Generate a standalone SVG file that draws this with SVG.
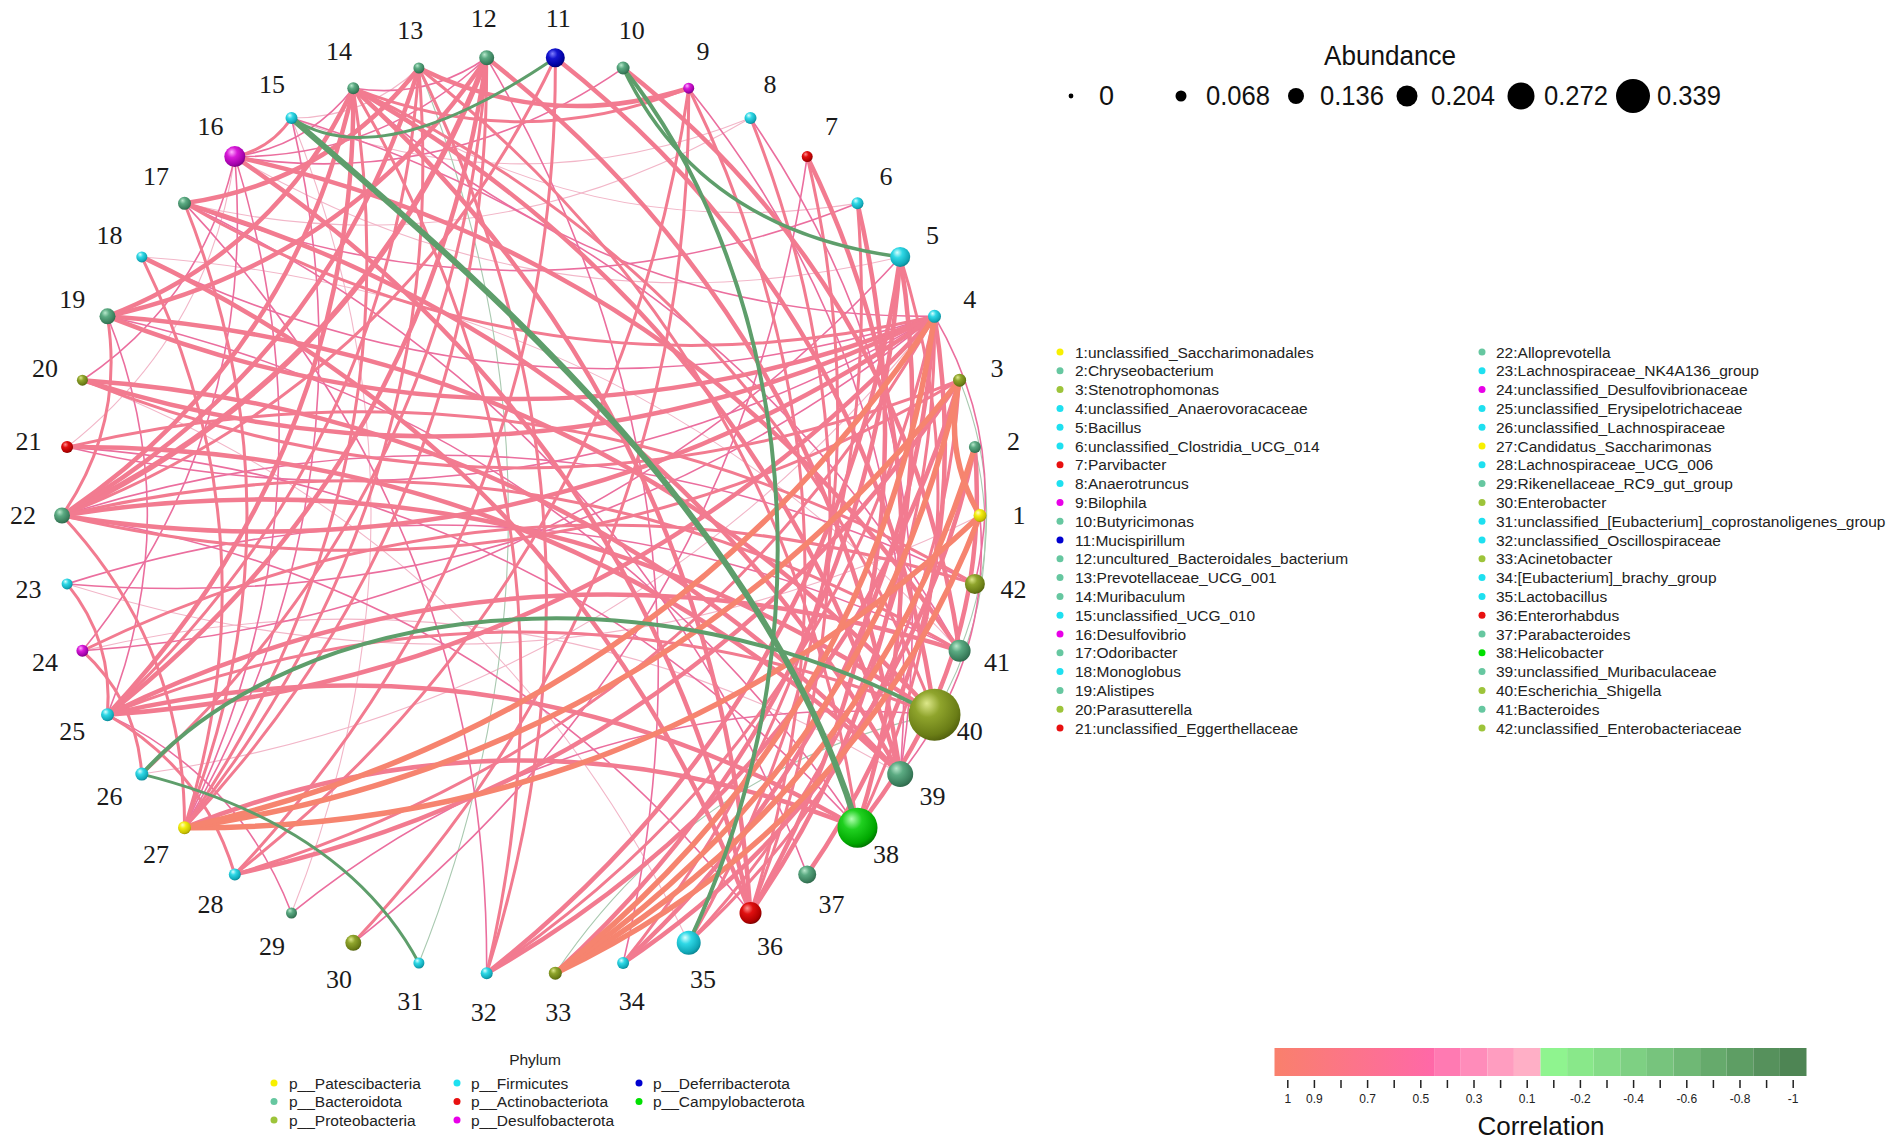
<svg xmlns="http://www.w3.org/2000/svg" width="1902" height="1143" viewBox="0 0 1902 1143">
<style>
.s{stroke:#F6846F;stroke-width:5.5}
.p{stroke:#F27B90;stroke-width:4.5}
.m{stroke:#F27B90;stroke-width:3}
.t{stroke:#EB6E9E;stroke-width:1.6}
.f{stroke:#F2B6C8;stroke-width:1.1}
.gt{stroke:#A9C9B0;stroke-width:1.1}
.g{stroke:#5E9E6B;fill:none}
.lbl{font-family:"Liberation Serif",serif;font-size:26px;fill:#1a1a1a;text-anchor:middle;dominant-baseline:central}
.lg{font-family:"Liberation Sans",Arial,sans-serif;font-size:15.5px;fill:#222;dominant-baseline:central}
.ab{font-family:"Liberation Sans",Arial,sans-serif;font-size:27px;fill:#111;dominant-baseline:central}
.cb{font-family:"Liberation Sans",Arial,sans-serif;font-size:12px;fill:#222;text-anchor:middle;dominant-baseline:central}
</style>
<defs>
<radialGradient id="gB" cx="0.4" cy="0.35" r="0.7" fx="0.35" fy="0.28"><stop offset="0" stop-color="#B8E8CC"/><stop offset="0.35" stop-color="#5BAA82"/><stop offset="0.8" stop-color="#3A7E5C"/><stop offset="1" stop-color="#2C6246"/></radialGradient>
<radialGradient id="gP" cx="0.4" cy="0.35" r="0.7" fx="0.35" fy="0.28"><stop offset="0" stop-color="#DDE88A"/><stop offset="0.35" stop-color="#8FA42C"/><stop offset="0.8" stop-color="#6A7D16"/><stop offset="1" stop-color="#4E5C0C"/></radialGradient>
<radialGradient id="gF" cx="0.4" cy="0.35" r="0.7" fx="0.35" fy="0.28"><stop offset="0" stop-color="#D8FFFF"/><stop offset="0.35" stop-color="#2FD8E6"/><stop offset="0.8" stop-color="#10A8B8"/><stop offset="1" stop-color="#0A7C88"/></radialGradient>
<radialGradient id="gY" cx="0.4" cy="0.35" r="0.7" fx="0.35" fy="0.28"><stop offset="0" stop-color="#FFFFC0"/><stop offset="0.35" stop-color="#F4EE10"/><stop offset="0.8" stop-color="#C8C000"/><stop offset="1" stop-color="#8E8800"/></radialGradient>
<radialGradient id="gR" cx="0.4" cy="0.35" r="0.7" fx="0.35" fy="0.28"><stop offset="0" stop-color="#FF9090"/><stop offset="0.35" stop-color="#E01010"/><stop offset="0.8" stop-color="#B00000"/><stop offset="1" stop-color="#700000"/></radialGradient>
<radialGradient id="gM" cx="0.4" cy="0.35" r="0.7" fx="0.35" fy="0.28"><stop offset="0" stop-color="#FFB0FF"/><stop offset="0.35" stop-color="#D81AD8"/><stop offset="0.8" stop-color="#A000A8"/><stop offset="1" stop-color="#6A0070"/></radialGradient>
<radialGradient id="gD" cx="0.4" cy="0.35" r="0.7" fx="0.35" fy="0.28"><stop offset="0" stop-color="#8080FF"/><stop offset="0.35" stop-color="#1515D0"/><stop offset="0.8" stop-color="#0000A0"/><stop offset="1" stop-color="#000060"/></radialGradient>
<radialGradient id="gC" cx="0.4" cy="0.35" r="0.7" fx="0.35" fy="0.28"><stop offset="0" stop-color="#B0FFB0"/><stop offset="0.35" stop-color="#20D020"/><stop offset="0.8" stop-color="#00A800"/><stop offset="1" stop-color="#006A00"/></radialGradient>
<linearGradient id="cbar" x1="0" y1="0" x2="1" y2="0"><stop offset="0" stop-color="#F9806C"/><stop offset="1" stop-color="#FF68A8"/></linearGradient>
<path id="k1" fill="none" d="M978.7,549.8 Q965.0,515.5 978.7,481.2"/>
<path id="k2" fill="none" d="M974.9,583.9 Q947.5,515.5 974.9,447.1"/>
<path id="k3" fill="none" d="M968.5,617.6 Q927.6,515.5 968.5,413.4"/>
<path id="k4" fill="none" d="M959.6,650.8 Q905.5,515.5 959.6,380.2"/>
<path id="k5" fill="none" d="M948.3,683.2 Q881.2,515.5 948.3,347.8"/>
<path id="k6" fill="none" d="M934.5,714.7 Q854.8,515.5 934.5,316.3"/>
<path id="k7" fill="none" d="M918.5,745.0 Q826.7,515.5 918.5,286.0"/>
<path id="k8" fill="none" d="M900.2,774.1 Q796.8,515.5 900.2,256.9"/>
<path id="k9" fill="none" d="M879.9,801.7 Q765.4,515.5 879.9,229.3"/>
<path id="k10" fill="none" d="M857.5,827.7 Q732.6,515.5 857.5,203.3"/>
<path id="k11" fill="none" d="M833.2,852.0 Q698.6,515.5 833.2,179.0"/>
<path id="k12" fill="none" d="M807.2,874.4 Q663.7,515.5 807.2,156.6"/>
<path id="k13" fill="none" d="M779.6,894.7 Q627.9,515.5 779.6,136.3"/>
<path id="k14" fill="none" d="M750.5,913.0 Q591.5,515.5 750.5,118.0"/>
<path id="k15" fill="none" d="M720.2,929.0 Q554.8,515.5 720.2,102.0"/>
<path id="k16" fill="none" d="M688.7,942.8 Q517.8,515.5 688.7,88.2"/>
<path id="k17" fill="none" d="M656.3,954.1 Q480.9,515.5 656.3,76.9"/>
<path id="k18" fill="none" d="M623.1,963.0 Q444.1,515.5 623.1,68.0"/>
<path id="k19" fill="none" d="M589.4,969.4 Q407.9,515.5 589.4,61.6"/>
<path id="k20" fill="none" d="M555.3,973.2 Q372.2,515.5 555.3,57.8"/>
<path id="k21" fill="none" d="M521,974.5 Q337.4,515.5 521,56.5"/>
<path id="k22" fill="none" d="M486.7,973.2 Q303.6,515.5 486.7,57.8"/>
<path id="k23" fill="none" d="M452.6,969.4 Q271.1,515.5 452.6,61.6"/>
<path id="k24" fill="none" d="M418.9,963.0 Q239.9,515.5 418.9,68.0"/>
<path id="k25" fill="none" d="M385.7,954.1 Q210.3,515.5 385.7,76.9"/>
<path id="k26" fill="none" d="M353.3,942.8 Q182.4,515.5 353.3,88.2"/>
<path id="k27" fill="none" d="M321.8,929.0 Q156.4,515.5 321.8,102.0"/>
<path id="k28" fill="none" d="M291.5,913.0 Q132.5,515.5 291.5,118.0"/>
<path id="k29" fill="none" d="M262.4,894.7 Q110.7,515.5 262.4,136.3"/>
<path id="k30" fill="none" d="M234.8,874.4 Q91.3,515.5 234.8,156.6"/>
<path id="k31" fill="none" d="M208.8,852.0 Q74.2,515.5 208.8,179.0"/>
<path id="k32" fill="none" d="M184.5,827.7 Q59.6,515.5 184.5,203.3"/>
<path id="k33" fill="none" d="M162.1,801.7 Q47.6,515.5 162.1,229.3"/>
<path id="k36" fill="none" d="M107.5,714.7 Q27.8,515.5 107.5,316.3"/>
<path id="k38" fill="none" d="M82.4,650.8 Q28.3,515.5 82.4,380.2"/>
</defs>
<rect width="1902" height="1143" fill="#ffffff"/>
<g id="connectors">
<use href="#k22" transform="rotate(-94.286 521 515.5)" class="f"/>
<use href="#k22" transform="rotate(-120 521 515.5)" class="f"/>
<use href="#k11" transform="rotate(-81.429 521 515.5)" class="f"/>
<use href="#k8" transform="rotate(-77.143 521 515.5)" class="f"/>
<use href="#k7" transform="rotate(-90 521 515.5)" class="f"/>
<use href="#k9" transform="rotate(-98.571 521 515.5)" class="f"/>
<use href="#k2" transform="rotate(-111.429 521 515.5)" class="f"/>
<use href="#k14" transform="rotate(-180 521 515.5)" class="f"/>
<use href="#k5" transform="rotate(-150 521 515.5)" class="f"/>
<use href="#k23" transform="rotate(-244.286 521 515.5)" class="f"/>
<use href="#k15" transform="rotate(-227.143 521 515.5)" class="f"/>
<use href="#k15" transform="rotate(-261.429 521 515.5)" class="f"/>
<use href="#k38" transform="rotate(-171.429 521 515.5)" class="gt"/>
<use href="#k38" transform="rotate(-180 521 515.5)" class="gt"/>
<use href="#k18" transform="rotate(-180 521 515.5)" class="gt"/>
<use href="#k7" transform="rotate(-304.286 521 515.5)" class="gt"/>
<use href="#k38" transform="rotate(-162.857 521 515.5)" class="t"/>
<use href="#k10" transform="rotate(-68.571 521 515.5)" class="t"/>
<use href="#k14" transform="rotate(-85.714 521 515.5)" class="t"/>
<use href="#k17" transform="rotate(-98.571 521 515.5)" class="t"/>
<use href="#k19" transform="rotate(-107.143 521 515.5)" class="t"/>
<use href="#k38" transform="rotate(-188.571 521 515.5)" class="t"/>
<use href="#k19" transform="rotate(-115.714 521 515.5)" class="t"/>
<use href="#k11" transform="rotate(-90 521 515.5)" class="t"/>
<use href="#k23" transform="rotate(-150 521 515.5)" class="t"/>
<use href="#k31" transform="rotate(-192.857 521 515.5)" class="t"/>
<use href="#k30" transform="rotate(-197.143 521 515.5)" class="t"/>
<use href="#k6" transform="rotate(-102.857 521 515.5)" class="t"/>
<use href="#k2" transform="rotate(-102.857 521 515.5)" class="t"/>
<use href="#k4" transform="rotate(-111.429 521 515.5)" class="t"/>
<use href="#k22" transform="rotate(-188.571 521 515.5)" class="t"/>
<use href="#k2" transform="rotate(-120 521 515.5)" class="t"/>
<use href="#k12" transform="rotate(-171.429 521 515.5)" class="t"/>
<use href="#k26" transform="rotate(-231.429 521 515.5)" class="t"/>
<use href="#k4" transform="rotate(-145.714 521 515.5)" class="t"/>
<use href="#k8" transform="rotate(-162.857 521 515.5)" class="t"/>
<use href="#k11" transform="rotate(-175.714 521 515.5)" class="t"/>
<use href="#k15" transform="rotate(-201.429 521 515.5)" class="t"/>
<use href="#k20" transform="rotate(-222.857 521 515.5)" class="t"/>
<use href="#k6" transform="rotate(-180 521 515.5)" class="t"/>
<use href="#k19" transform="rotate(-235.714 521 515.5)" class="t"/>
<use href="#k17" transform="rotate(-244.286 521 515.5)" class="t"/>
<use href="#k14" transform="rotate(-240 521 515.5)" class="t"/>
<use href="#k20" transform="rotate(-265.714 521 515.5)" class="t"/>
<use href="#k18" transform="rotate(-265.714 521 515.5)" class="t"/>
<use href="#k4" transform="rotate(-222.857 521 515.5)" class="t"/>
<use href="#k11" transform="rotate(-287.143 521 515.5)" class="t"/>
<use href="#k17" transform="rotate(-90 521 515.5)" class="m"/>
<use href="#k19" transform="rotate(-98.571 521 515.5)" class="m"/>
<use href="#k32" transform="rotate(-154.286 521 515.5)" class="m"/>
<use href="#k13" transform="rotate(-81.429 521 515.5)" class="m"/>
<use href="#k24" transform="rotate(-128.571 521 515.5)" class="m"/>
<use href="#k28" transform="rotate(-145.714 521 515.5)" class="m"/>
<use href="#k31" transform="rotate(-158.571 521 515.5)" class="m"/>
<use href="#k33" transform="rotate(-175.714 521 515.5)" class="m"/>
<use href="#k28" transform="rotate(-162.857 521 515.5)" class="m"/>
<use href="#k28" transform="rotate(-171.429 521 515.5)" class="m"/>
<use href="#k28" transform="rotate(-180 521 515.5)" class="m"/>
<use href="#k5" transform="rotate(-90 521 515.5)" class="m"/>
<use href="#k19" transform="rotate(-150 521 515.5)" class="m"/>
<use href="#k21" transform="rotate(-158.571 521 515.5)" class="m"/>
<use href="#k27" transform="rotate(-184.286 521 515.5)" class="m"/>
<use href="#k11" transform="rotate(-132.857 521 515.5)" class="m"/>
<use href="#k17" transform="rotate(-158.571 521 515.5)" class="m"/>
<use href="#k14" transform="rotate(-154.286 521 515.5)" class="m"/>
<use href="#k15" transform="rotate(-158.571 521 515.5)" class="m"/>
<use href="#k12" transform="rotate(-154.286 521 515.5)" class="m"/>
<use href="#k14" transform="rotate(-162.857 521 515.5)" class="m"/>
<use href="#k19" transform="rotate(-184.286 521 515.5)" class="m"/>
<use href="#k25" transform="rotate(-210 521 515.5)" class="m"/>
<use href="#k13" transform="rotate(-167.143 521 515.5)" class="m"/>
<use href="#k18" transform="rotate(-188.571 521 515.5)" class="m"/>
<use href="#k26" transform="rotate(-222.857 521 515.5)" class="m"/>
<use href="#k1" transform="rotate(-124.286 521 515.5)" class="m"/>
<use href="#k10" transform="rotate(-180 521 515.5)" class="m"/>
<use href="#k9" transform="rotate(-184.286 521 515.5)" class="m"/>
<use href="#k3" transform="rotate(-167.143 521 515.5)" class="m"/>
<use href="#k21" transform="rotate(-261.429 521 515.5)" class="m"/>
<use href="#k5" transform="rotate(-201.429 521 515.5)" class="m"/>
<use href="#k19" transform="rotate(-261.429 521 515.5)" class="m"/>
<use href="#k2" transform="rotate(-197.143 521 515.5)" class="m"/>
<use href="#k2" transform="rotate(-205.714 521 515.5)" class="m"/>
<use href="#k18" transform="rotate(-274.286 521 515.5)" class="m"/>
<use href="#k3" transform="rotate(-218.571 521 515.5)" class="m"/>
<use href="#k15" transform="rotate(-270 521 515.5)" class="m"/>
<use href="#k32" transform="rotate(-145.714 521 515.5)" class="p"/>
<use href="#k36" transform="rotate(-162.857 521 515.5)" class="p"/>
<use href="#k25" transform="rotate(-124.286 521 515.5)" class="p"/>
<use href="#k29" transform="rotate(-141.429 521 515.5)" class="p"/>
<use href="#k15" transform="rotate(-90 521 515.5)" class="p"/>
<use href="#k16" transform="rotate(-94.286 521 515.5)" class="p"/>
<use href="#k18" transform="rotate(-102.857 521 515.5)" class="p"/>
<use href="#k21" transform="rotate(-115.714 521 515.5)" class="p"/>
<use href="#k30" transform="rotate(-154.286 521 515.5)" class="p"/>
<use href="#k33" transform="rotate(-167.143 521 515.5)" class="p"/>
<use href="#k27" transform="rotate(-150 521 515.5)" class="p"/>
<use href="#k28" transform="rotate(-154.286 521 515.5)" class="p"/>
<use href="#k31" transform="rotate(-167.143 521 515.5)" class="p"/>
<use href="#k30" transform="rotate(-171.429 521 515.5)" class="p"/>
<use href="#k31" transform="rotate(-184.286 521 515.5)" class="p"/>
<use href="#k4" transform="rotate(-85.714 521 515.5)" class="p"/>
<use href="#k31" transform="rotate(-210 521 515.5)" class="p"/>
<use href="#k29" transform="rotate(-210 521 515.5)" class="p"/>
<use href="#k7" transform="rotate(-124.286 521 515.5)" class="p"/>
<use href="#k10" transform="rotate(-137.143 521 515.5)" class="p" style="stroke-width:5.5"/>
<use href="#k13" transform="rotate(-150 521 515.5)" class="p"/>
<use href="#k27" transform="rotate(-210 521 515.5)" class="p"/>
<use href="#k4" transform="rotate(-120 521 515.5)" class="p"/>
<use href="#k9" transform="rotate(-141.429 521 515.5)" class="p"/>
<use href="#k5" transform="rotate(-132.857 521 515.5)" class="p"/>
<use href="#k8" transform="rotate(-145.714 521 515.5)" class="p"/>
<use href="#k11" transform="rotate(-158.571 521 515.5)" class="p"/>
<use href="#k22" transform="rotate(-205.714 521 515.5)" class="p"/>
<use href="#k25" transform="rotate(-218.571 521 515.5)" class="p"/>
<use href="#k20" transform="rotate(-214.286 521 515.5)" class="p"/>
<use href="#k25" transform="rotate(-235.714 521 515.5)" class="p"/>
<use href="#k22" transform="rotate(-231.429 521 515.5)" class="p"/>
<use href="#k18" transform="rotate(-222.857 521 515.5)" class="p"/>
<use href="#k21" transform="rotate(-244.286 521 515.5)" class="p"/>
<use href="#k19" transform="rotate(-244.286 521 515.5)" class="p"/>
<use href="#k18" transform="rotate(-248.571 521 515.5)" class="p"/>
<use href="#k18" transform="rotate(-257.143 521 515.5)" class="p"/>
<use href="#k13" transform="rotate(-261.429 521 515.5)" class="p"/>
<use href="#k16" transform="rotate(-274.286 521 515.5)" class="p"/>
<use href="#k11" transform="rotate(-270 521 515.5)" class="p"/>
<use href="#k2" transform="rotate(-8.571 521 515.5)" class="s"/>
<use href="#k26" transform="rotate(-111.429 521 515.5)" class="s"/>
<use href="#k32" transform="rotate(-137.143 521 515.5)" class="s"/>
<use href="#k31" transform="rotate(-141.429 521 515.5)" class="s"/>
<use href="#k24" transform="rotate(-120 521 515.5)" class="s"/>
<use href="#k30" transform="rotate(-145.714 521 515.5)" class="s"/>
<use href="#k23" transform="rotate(-124.286 521 515.5)" class="s"/>
<use href="#k29" transform="rotate(-150 521 515.5)" class="s"/>
<path class="g" stroke-width="3.5" d="M623.1,68 Q700,230 900.2,256.9"/>
<path class="g" stroke-width="4" d="M623.1,68 C770,250 850,600 688.7,942.8"/>
<path class="g" stroke-width="3" d="M555.3,57.8 Q380,177 291.5,118"/>
<path class="g" stroke-width="6" d="M291.5,118 C430,240 760,500 857.5,827.7"/>
<path class="g" stroke-width="3" d="M141.8,774.1 Q345,825 418.9,963"/>
<path class="g" stroke-width="4" d="M141.8,774.1 C300,600 650,560 934.5,714.7"/>
</g>
<g id="nodes">
<g id="node-1"><circle cx="980" cy="515.5" r="6.5" fill="url(#gY)"/><text class="lbl" x="1019" y="515.5">1</text></g>
<g id="node-2"><circle cx="974.9" cy="447.1" r="6" fill="url(#gB)"/><text class="lbl" x="1013.4" y="441.3">2</text></g>
<g id="node-3"><circle cx="959.6" cy="380.2" r="6.5" fill="url(#gP)"/><text class="lbl" x="996.9" y="368.7">3</text></g>
<g id="node-4"><circle cx="934.5" cy="316.3" r="6.5" fill="url(#gF)"/><text class="lbl" x="969.7" y="299.4">4</text></g>
<g id="node-5"><circle cx="900.2" cy="256.9" r="10" fill="url(#gF)"/><text class="lbl" x="932.5" y="235">5</text></g>
<g id="node-6"><circle cx="857.5" cy="203.3" r="6" fill="url(#gF)"/><text class="lbl" x="886.1" y="176.8">6</text></g>
<g id="node-7"><circle cx="807.2" cy="156.6" r="5.5" fill="url(#gR)"/><text class="lbl" x="831.5" y="126.1">7</text></g>
<g id="node-8"><circle cx="750.5" cy="118" r="6" fill="url(#gF)"/><text class="lbl" x="770" y="84.2">8</text></g>
<g id="node-9"><circle cx="688.7" cy="88.2" r="5.5" fill="url(#gM)"/><text class="lbl" x="702.9" y="51.9">9</text></g>
<g id="node-10"><circle cx="623.1" cy="68" r="6.5" fill="url(#gB)"/><text class="lbl" x="631.8" y="30">10</text></g>
<g id="node-11"><circle cx="555.3" cy="57.8" r="9.5" fill="url(#gD)"/><text class="lbl" x="558.2" y="18.9">11</text></g>
<g id="node-12"><circle cx="486.7" cy="57.8" r="7.5" fill="url(#gB)"/><text class="lbl" x="483.8" y="18.9">12</text></g>
<g id="node-13"><circle cx="418.9" cy="68" r="5.5" fill="url(#gB)"/><text class="lbl" x="410.2" y="30">13</text></g>
<g id="node-14"><circle cx="353.3" cy="88.2" r="6" fill="url(#gB)"/><text class="lbl" x="339.1" y="51.9">14</text></g>
<g id="node-15"><circle cx="291.5" cy="118" r="6" fill="url(#gF)"/><text class="lbl" x="272" y="84.2">15</text></g>
<g id="node-16"><circle cx="234.8" cy="156.6" r="10.5" fill="url(#gM)"/><text class="lbl" x="210.5" y="126.1">16</text></g>
<g id="node-17"><circle cx="184.5" cy="203.3" r="6.5" fill="url(#gB)"/><text class="lbl" x="155.9" y="176.8">17</text></g>
<g id="node-18"><circle cx="141.8" cy="256.9" r="5.5" fill="url(#gF)"/><text class="lbl" x="109.5" y="235">18</text></g>
<g id="node-19"><circle cx="107.5" cy="316.3" r="8" fill="url(#gB)"/><text class="lbl" x="72.3" y="299.4">19</text></g>
<g id="node-20"><circle cx="82.4" cy="380.2" r="5.5" fill="url(#gP)"/><text class="lbl" x="45.1" y="368.7">20</text></g>
<g id="node-21"><circle cx="67.1" cy="447.1" r="6" fill="url(#gR)"/><text class="lbl" x="28.6" y="441.3">21</text></g>
<g id="node-22"><circle cx="62" cy="515.5" r="8" fill="url(#gB)"/><text class="lbl" x="23" y="515.5">22</text></g>
<g id="node-23"><circle cx="67.1" cy="583.9" r="5.5" fill="url(#gF)"/><text class="lbl" x="28.6" y="589.7">23</text></g>
<g id="node-24"><circle cx="82.4" cy="650.8" r="6" fill="url(#gM)"/><text class="lbl" x="45.1" y="662.3">24</text></g>
<g id="node-25"><circle cx="107.5" cy="714.7" r="6.5" fill="url(#gF)"/><text class="lbl" x="72.3" y="731.6">25</text></g>
<g id="node-26"><circle cx="141.8" cy="774.1" r="6.5" fill="url(#gF)"/><text class="lbl" x="109.5" y="796">26</text></g>
<g id="node-27"><circle cx="184.5" cy="827.7" r="6.5" fill="url(#gY)"/><text class="lbl" x="155.9" y="854.2">27</text></g>
<g id="node-28"><circle cx="234.8" cy="874.4" r="6" fill="url(#gF)"/><text class="lbl" x="210.5" y="904.9">28</text></g>
<g id="node-29"><circle cx="291.5" cy="913" r="5.5" fill="url(#gB)"/><text class="lbl" x="272" y="946.8">29</text></g>
<g id="node-30"><circle cx="353.3" cy="942.8" r="8" fill="url(#gP)"/><text class="lbl" x="339.1" y="979.1">30</text></g>
<g id="node-31"><circle cx="418.9" cy="963" r="5.5" fill="url(#gF)"/><text class="lbl" x="410.2" y="1001">31</text></g>
<g id="node-32"><circle cx="486.7" cy="973.2" r="6" fill="url(#gF)"/><text class="lbl" x="483.8" y="1012.1">32</text></g>
<g id="node-33"><circle cx="555.3" cy="973.2" r="6.5" fill="url(#gP)"/><text class="lbl" x="558.2" y="1012.1">33</text></g>
<g id="node-34"><circle cx="623.1" cy="963" r="6" fill="url(#gF)"/><text class="lbl" x="631.8" y="1001">34</text></g>
<g id="node-35"><circle cx="688.7" cy="942.8" r="12" fill="url(#gF)"/><text class="lbl" x="702.9" y="979.1">35</text></g>
<g id="node-36"><circle cx="750.5" cy="913" r="11" fill="url(#gR)"/><text class="lbl" x="770" y="946.8">36</text></g>
<g id="node-37"><circle cx="807.2" cy="874.4" r="9" fill="url(#gB)"/><text class="lbl" x="831.5" y="904.9">37</text></g>
<g id="node-38"><circle cx="857.5" cy="827.7" r="20" fill="url(#gC)"/><text class="lbl" x="886.1" y="854.2">38</text></g>
<g id="node-39"><circle cx="900.2" cy="774.1" r="13" fill="url(#gB)"/><text class="lbl" x="932.5" y="796">39</text></g>
<g id="node-40"><circle cx="934.5" cy="714.7" r="26" fill="url(#gP)"/><text class="lbl" x="969.7" y="731.6">40</text></g>
<g id="node-41"><circle cx="959.6" cy="650.8" r="11" fill="url(#gB)"/><text class="lbl" x="996.9" y="662.3">41</text></g>
<g id="node-42"><circle cx="974.9" cy="583.9" r="10" fill="url(#gP)"/><text class="lbl" x="1013.4" y="589.7">42</text></g>
</g>
<g id="legend-abundance">
<text class="ab" x="1390" y="56" text-anchor="middle" textLength="132" lengthAdjust="spacingAndGlyphs">Abundance</text>
<circle cx="1071" cy="96" r="2.4" fill="#000"/><text class="ab" x="1099" y="96">0</text>
<circle cx="1181" cy="96" r="5.5" fill="#000"/><text class="ab" x="1206" y="96" textLength="64" lengthAdjust="spacingAndGlyphs">0.068</text>
<circle cx="1296" cy="96" r="8" fill="#000"/><text class="ab" x="1320" y="96" textLength="64" lengthAdjust="spacingAndGlyphs">0.136</text>
<circle cx="1407" cy="96" r="10.5" fill="#000"/><text class="ab" x="1431" y="96" textLength="64" lengthAdjust="spacingAndGlyphs">0.204</text>
<circle cx="1521" cy="96" r="13.5" fill="#000"/><text class="ab" x="1544" y="96" textLength="64" lengthAdjust="spacingAndGlyphs">0.272</text>
<circle cx="1633" cy="96" r="17" fill="#000"/><text class="ab" x="1657" y="96" textLength="64" lengthAdjust="spacingAndGlyphs">0.339</text>
</g>
<g id="legend-taxa">
<circle cx="1060" cy="352" r="3.5" fill="#F8F000"/><text class="lg" x="1075" y="352">1:unclassified_Saccharimonadales</text>
<circle cx="1060" cy="370.8" r="3.5" fill="#66C7A0"/><text class="lg" x="1075" y="370.8">2:Chryseobacterium</text>
<circle cx="1060" cy="389.6" r="3.5" fill="#9DC43A"/><text class="lg" x="1075" y="389.6">3:Stenotrophomonas</text>
<circle cx="1060" cy="408.4" r="3.5" fill="#1EE0F0"/><text class="lg" x="1075" y="408.4">4:unclassified_Anaerovoracaceae</text>
<circle cx="1060" cy="427.2" r="3.5" fill="#1EE0F0"/><text class="lg" x="1075" y="427.2">5:Bacillus</text>
<circle cx="1060" cy="446" r="3.5" fill="#1EE0F0"/><text class="lg" x="1075" y="446">6:unclassified_Clostridia_UCG_014</text>
<circle cx="1060" cy="464.8" r="3.5" fill="#E81010"/><text class="lg" x="1075" y="464.8">7:Parvibacter</text>
<circle cx="1060" cy="483.6" r="3.5" fill="#1EE0F0"/><text class="lg" x="1075" y="483.6">8:Anaerotruncus</text>
<circle cx="1060" cy="502.4" r="3.5" fill="#E800E8"/><text class="lg" x="1075" y="502.4">9:Bilophila</text>
<circle cx="1060" cy="521.2" r="3.5" fill="#66C7A0"/><text class="lg" x="1075" y="521.2">10:Butyricimonas</text>
<circle cx="1060" cy="540" r="3.5" fill="#0000D0"/><text class="lg" x="1075" y="540">11:Mucispirillum</text>
<circle cx="1060" cy="558.8" r="3.5" fill="#66C7A0"/><text class="lg" x="1075" y="558.8">12:uncultured_Bacteroidales_bacterium</text>
<circle cx="1060" cy="577.6" r="3.5" fill="#66C7A0"/><text class="lg" x="1075" y="577.6">13:Prevotellaceae_UCG_001</text>
<circle cx="1060" cy="596.4" r="3.5" fill="#66C7A0"/><text class="lg" x="1075" y="596.4">14:Muribaculum</text>
<circle cx="1060" cy="615.2" r="3.5" fill="#1EE0F0"/><text class="lg" x="1075" y="615.2">15:unclassified_UCG_010</text>
<circle cx="1060" cy="634" r="3.5" fill="#E800E8"/><text class="lg" x="1075" y="634">16:Desulfovibrio</text>
<circle cx="1060" cy="652.8" r="3.5" fill="#66C7A0"/><text class="lg" x="1075" y="652.8">17:Odoribacter</text>
<circle cx="1060" cy="671.6" r="3.5" fill="#1EE0F0"/><text class="lg" x="1075" y="671.6">18:Monoglobus</text>
<circle cx="1060" cy="690.4" r="3.5" fill="#66C7A0"/><text class="lg" x="1075" y="690.4">19:Alistipes</text>
<circle cx="1060" cy="709.2" r="3.5" fill="#9DC43A"/><text class="lg" x="1075" y="709.2">20:Parasutterella</text>
<circle cx="1060" cy="728" r="3.5" fill="#E81010"/><text class="lg" x="1075" y="728">21:unclassified_Eggerthellaceae</text>
<circle cx="1482" cy="352" r="3.5" fill="#66C7A0"/><text class="lg" x="1496" y="352">22:Alloprevotella</text>
<circle cx="1482" cy="370.8" r="3.5" fill="#1EE0F0"/><text class="lg" x="1496" y="370.8">23:Lachnospiraceae_NK4A136_group</text>
<circle cx="1482" cy="389.6" r="3.5" fill="#E800E8"/><text class="lg" x="1496" y="389.6">24:unclassified_Desulfovibrionaceae</text>
<circle cx="1482" cy="408.4" r="3.5" fill="#1EE0F0"/><text class="lg" x="1496" y="408.4">25:unclassified_Erysipelotrichaceae</text>
<circle cx="1482" cy="427.2" r="3.5" fill="#1EE0F0"/><text class="lg" x="1496" y="427.2">26:unclassified_Lachnospiraceae</text>
<circle cx="1482" cy="446" r="3.5" fill="#F8F000"/><text class="lg" x="1496" y="446">27:Candidatus_Saccharimonas</text>
<circle cx="1482" cy="464.8" r="3.5" fill="#1EE0F0"/><text class="lg" x="1496" y="464.8">28:Lachnospiraceae_UCG_006</text>
<circle cx="1482" cy="483.6" r="3.5" fill="#66C7A0"/><text class="lg" x="1496" y="483.6">29:Rikenellaceae_RC9_gut_group</text>
<circle cx="1482" cy="502.4" r="3.5" fill="#9DC43A"/><text class="lg" x="1496" y="502.4">30:Enterobacter</text>
<circle cx="1482" cy="521.2" r="3.5" fill="#1EE0F0"/><text class="lg" x="1496" y="521.2">31:unclassified_[Eubacterium]_coprostanoligenes_group</text>
<circle cx="1482" cy="540" r="3.5" fill="#1EE0F0"/><text class="lg" x="1496" y="540">32:unclassified_Oscillospiraceae</text>
<circle cx="1482" cy="558.8" r="3.5" fill="#9DC43A"/><text class="lg" x="1496" y="558.8">33:Acinetobacter</text>
<circle cx="1482" cy="577.6" r="3.5" fill="#1EE0F0"/><text class="lg" x="1496" y="577.6">34:[Eubacterium]_brachy_group</text>
<circle cx="1482" cy="596.4" r="3.5" fill="#1EE0F0"/><text class="lg" x="1496" y="596.4">35:Lactobacillus</text>
<circle cx="1482" cy="615.2" r="3.5" fill="#E81010"/><text class="lg" x="1496" y="615.2">36:Enterorhabdus</text>
<circle cx="1482" cy="634" r="3.5" fill="#66C7A0"/><text class="lg" x="1496" y="634">37:Parabacteroides</text>
<circle cx="1482" cy="652.8" r="3.5" fill="#00E000"/><text class="lg" x="1496" y="652.8">38:Helicobacter</text>
<circle cx="1482" cy="671.6" r="3.5" fill="#66C7A0"/><text class="lg" x="1496" y="671.6">39:unclassified_Muribaculaceae</text>
<circle cx="1482" cy="690.4" r="3.5" fill="#9DC43A"/><text class="lg" x="1496" y="690.4">40:Escherichia_Shigella</text>
<circle cx="1482" cy="709.2" r="3.5" fill="#66C7A0"/><text class="lg" x="1496" y="709.2">41:Bacteroides</text>
<circle cx="1482" cy="728" r="3.5" fill="#9DC43A"/><text class="lg" x="1496" y="728">42:unclassified_Enterobacteriaceae</text>
</g>
<g id="legend-phylum">
<text class="lg" x="535" y="1059" text-anchor="middle">Phylum</text>
<circle cx="274" cy="1083" r="3.5" fill="#F8F000"/><text class="lg" x="289" y="1083">p__Patescibacteria</text>
<circle cx="274" cy="1101.5" r="3.5" fill="#66C7A0"/><text class="lg" x="289" y="1101.5">p__Bacteroidota</text>
<circle cx="274" cy="1120" r="3.5" fill="#9DC43A"/><text class="lg" x="289" y="1120">p__Proteobacteria</text>
<circle cx="457" cy="1083" r="3.5" fill="#1EE0F0"/><text class="lg" x="471" y="1083">p__Firmicutes</text>
<circle cx="457" cy="1101.5" r="3.5" fill="#E81010"/><text class="lg" x="471" y="1101.5">p__Actinobacteriota</text>
<circle cx="457" cy="1120" r="3.5" fill="#E800E8"/><text class="lg" x="471" y="1120">p__Desulfobacterota</text>
<circle cx="639" cy="1083" r="3.5" fill="#0000D0"/><text class="lg" x="653" y="1083">p__Deferribacterota</text>
<circle cx="639" cy="1101.5" r="3.5" fill="#00E000"/><text class="lg" x="653" y="1101.5">p__Campylobacterota</text>
</g>
<g id="legend-correlation">
<rect x="1274.5" y="1048" width="159.6" height="28" fill="url(#cbar)"/>
<rect x="1434.1" y="1048" width="26.6" height="28" fill="#FF7AB2"/>
<rect x="1460.7" y="1048" width="26.6" height="28" fill="#FF8CBA"/>
<rect x="1487.3" y="1048" width="26.6" height="28" fill="#FF9DC0"/>
<rect x="1513.9" y="1048" width="26.6" height="28" fill="#FFAFC6"/>
<rect x="1540.5" y="1048" width="26.6" height="28" fill="#8FF48F"/>
<rect x="1567.1" y="1048" width="26.6" height="28" fill="#89E88A"/>
<rect x="1593.7" y="1048" width="26.6" height="28" fill="#84DC87"/>
<rect x="1620.3" y="1048" width="26.6" height="28" fill="#7ED083"/>
<rect x="1646.9" y="1048" width="26.6" height="28" fill="#77C47D"/>
<rect x="1673.5" y="1048" width="26.6" height="28" fill="#6FB875"/>
<rect x="1700.1" y="1048" width="26.6" height="28" fill="#66AA6C"/>
<rect x="1726.7" y="1048" width="26.6" height="28" fill="#5E9E64"/>
<rect x="1753.3" y="1048" width="26.6" height="28" fill="#56915C"/>
<rect x="1779.9" y="1048" width="26.6" height="28" fill="#4E8554"/>
<path stroke="#222" stroke-width="1.5" d="M1287.8,1080v8M1314.4,1080v8M1341,1080v8M1367.6,1080v8M1394.2,1080v8M1420.8,1080v8M1447.4,1080v8M1474,1080v8M1500.6,1080v8M1527.2,1080v8M1553.8,1080v8M1580.4,1080v8M1607,1080v8M1633.6,1080v8M1660.2,1080v8M1686.8,1080v8M1713.4,1080v8M1740,1080v8M1766.6,1080v8M1793.2,1080v8"/>
<text class="cb" x="1287.8" y="1099">1</text>
<text class="cb" x="1314.4" y="1099">0.9</text>
<text class="cb" x="1367.6" y="1099">0.7</text>
<text class="cb" x="1420.8" y="1099">0.5</text>
<text class="cb" x="1474" y="1099">0.3</text>
<text class="cb" x="1527.2" y="1099">0.1</text>
<text class="cb" x="1580.4" y="1099">-0.2</text>
<text class="cb" x="1633.6" y="1099">-0.4</text>
<text class="cb" x="1686.8" y="1099">-0.6</text>
<text class="cb" x="1740" y="1099">-0.8</text>
<text class="cb" x="1793.2" y="1099">-1</text>
<text x="1541" y="1126" text-anchor="middle" dominant-baseline="central" font-family="'Liberation Sans',Arial,sans-serif" font-size="26" fill="#111">Correlation</text>
</g>
</svg>
